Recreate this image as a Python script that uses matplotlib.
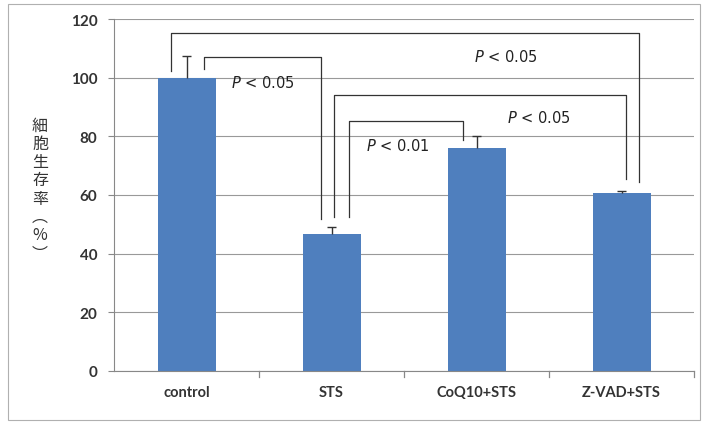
import matplotlib
matplotlib.use("Agg")
import matplotlib.pyplot as plt
from matplotlib.patches import Rectangle

plt.rcParams['font.family'] = ['Lato', 'Noto Sans CJK JP', 'DejaVu Sans']

groups = ["control", "STS", "CoQ10+STS", "Z-VAD+STS"]
survival = [100, 46.7, 76, 60.7]
err = [7.5, 2.3, 4, 0.7]
yticks = [0, 20, 40, 60, 80, 100, 120]

# brackets: (x_left, y_left_bottom, x_right, y_right_bottom, y_top)
brackets = [
    (-0.11, 102.3, 3.12, 64.4, 115.2),
    (0.12, 103.0, 0.93, 51.8, 107.0),
    (1.02, 52.5, 3.03, 65.5, 94.1),
    (1.12, 52.5, 1.91, 78.8, 85.2),
]
# p-value labels: (x, y, text)
p_labels = [
    (0.31, 98.5, "0.05"),
    (1.98, 107.4, "0.05"),
    (2.21, 86.6, "0.05"),
    (1.24, 77.0, "0.01"),
]

fig = plt.figure(figsize=(7.08, 4.27), dpi=100)
ax = fig.add_axes([114 / 708, 1 - 372 / 427, 580 / 708, 352 / 427])

fig.patches.append(Rectangle((8 / 708, 6 / 427), 692 / 708, 416 / 427,
                             transform=fig.transFigure, fill=False,
                             edgecolor='#b0b0b0', lw=0.8))

x = list(range(len(groups)))
ax.bar(x, survival, width=0.4, color='#4F7FBE', zorder=2)
# upper error bars only (single cap)
tops = [s + e for s, e in zip(survival, err)]
ax.vlines(x, survival, tops, color='#333333', lw=1, zorder=3)
ax.hlines(tops, [i - 0.03 for i in x], [i + 0.03 for i in x],
          color='#333333', lw=1, zorder=3)

for xl, yl, xr, yr, yt in brackets:
    ax.plot([xl, xl, xr, xr], [yl, yt, yt, yr], color='#333333', lw=0.9, zorder=4)

for px, py, val in p_labels:
    ax.text(px, py, "$P$ < " + val, fontsize=10.5, color='#222222',
            ha='left', va='center', family=['DejaVu Sans'])

ax.set_xlim(-0.5, 3.5)
ax.set_ylim(0, 120)
ax.set_yticks(yticks)
ax.set_yticklabels([str(t) for t in yticks], fontsize=11, fontweight='bold',
                   color='#333333')
ax.set_xticks(x)
ax.set_xticklabels(groups, fontsize=10.5, fontweight='bold', color='#333333')
ax.tick_params(axis='x', length=0, pad=10)
ax.tick_params(axis='y', length=4, color='#888888', pad=8)
for b in [0.5, 1.5, 2.5, 3.5]:
    ax.plot([b, b], [0, -2], color='#888888', lw=0.9, clip_on=False)

ax.grid(axis='y', color='#999999', lw=0.8, zorder=0)
ax.set_axisbelow(True)
for s in ['top', 'right']:
    ax.spines[s].set_visible(False)
ax.spines['left'].set_color('#888888')
ax.spines['bottom'].set_color('#888888')

label = "\n".join(["細", "胞", "生", "存", "率", "︵", "%", "︶"])
fig.text(40 / 708, 1 - 190 / 427, label, ha='center', va='center',
         fontsize=11.5, color='#333333', linespacing=1.1,
         family=['Noto Sans CJK JP', 'DejaVu Sans'])

fig.savefig("out.png", dpi=100)
